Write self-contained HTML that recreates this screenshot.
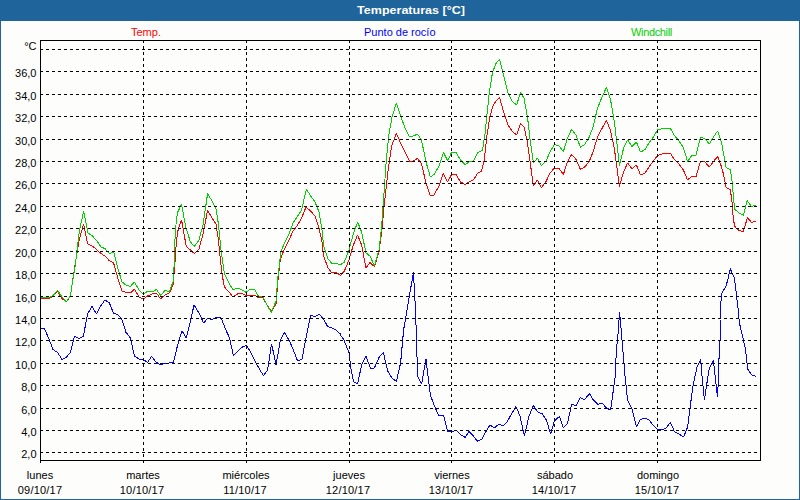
<!DOCTYPE html>
<html><head><meta charset="utf-8"><title>Temperaturas</title>
<style>
html,body{margin:0;padding:0;}
body{width:800px;height:500px;position:relative;overflow:hidden;background:#1f649b;font-family:"Liberation Sans",sans-serif;font-size:11px;color:#000;}
#inner{position:absolute;left:1px;top:21px;width:798px;height:478px;background:#fdfefc;}
#title{position:absolute;left:311px;top:4px;width:200px;transform:scaleX(1.139);transform-origin:50% 50%;text-align:center;color:#fff;font-weight:bold;font-size:11px;line-height:13px;white-space:nowrap;}
.yl{position:absolute;left:0;width:36.5px;text-align:right;line-height:13px;height:13px;white-space:nowrap;}
.xl{position:absolute;width:80px;text-align:center;line-height:13px;height:13px;white-space:nowrap;}
.lg{position:absolute;top:26px;line-height:13px;height:13px;white-space:nowrap;}
</style></head><body>
<div id="inner"></div>
<div id="title">Temperaturas [&deg;C]</div>
<div class="lg" style="left:131px;color:#ff0000">Temp.</div>
<div class="lg" style="left:364px;color:#0000ff">Punto de roc&iacute;o</div>
<div class="lg" style="left:631px;color:#00cf00;letter-spacing:-0.35px">Windchill</div>
<div class="yl" style="top:448px">2,0</div>
<div class="yl" style="top:426px">4,0</div>
<div class="yl" style="top:404px">6,0</div>
<div class="yl" style="top:381px">8,0</div>
<div class="yl" style="top:359px">10,0</div>
<div class="yl" style="top:336px">12,0</div>
<div class="yl" style="top:314px">14,0</div>
<div class="yl" style="top:292px">16,0</div>
<div class="yl" style="top:269px">18,0</div>
<div class="yl" style="top:247px">20,0</div>
<div class="yl" style="top:224px">22,0</div>
<div class="yl" style="top:202px">24,0</div>
<div class="yl" style="top:179px">26,0</div>
<div class="yl" style="top:157px">28,0</div>
<div class="yl" style="top:135px">30,0</div>
<div class="yl" style="top:112px">32,0</div>
<div class="yl" style="top:90px">34,0</div>
<div class="yl" style="top:67px">36,0</div>
<div class="yl" style="top:40px">&deg;C</div>
<div class="xl" style="left:0px;top:469px">lunes</div>
<div class="xl" style="left:0px;top:484px;letter-spacing:0.2px">09/10/17</div>
<div class="xl" style="left:103px;top:469px">martes</div>
<div class="xl" style="left:102px;top:484px;letter-spacing:0.2px">10/10/17</div>
<div class="xl" style="left:206px;top:469px">miércoles</div>
<div class="xl" style="left:205px;top:484px;letter-spacing:0.2px">11/10/17</div>
<div class="xl" style="left:309px;top:469px">jueves</div>
<div class="xl" style="left:308px;top:484px;letter-spacing:0.2px">12/10/17</div>
<div class="xl" style="left:412px;top:469px">viernes</div>
<div class="xl" style="left:411px;top:484px;letter-spacing:0.2px">13/10/17</div>
<div class="xl" style="left:515px;top:469px">sábado</div>
<div class="xl" style="left:514px;top:484px;letter-spacing:0.2px">14/10/17</div>
<div class="xl" style="left:618px;top:469px">domingo</div>
<div class="xl" style="left:617px;top:484px;letter-spacing:0.2px">15/10/17</div>
<svg width="800" height="500" viewBox="0 0 800 500" style="position:absolute;left:0;top:0">
<g shape-rendering="crispEdges">
<polyline fill="none" stroke="#ff0000" stroke-width="1" stroke-linejoin="bevel" points="41.0,298.5 49.5,298.5 53.0,296.0 57.6,291.5 62.0,298.6 66.4,302.0 70.4,296.0 75.0,265.0 79.4,239.0 83.6,224.0 87.6,244.0 92.4,246.0 97.0,250.0 101.0,253.6 105.0,256.0 109.6,261.0 113.6,263.0 118.0,279.0 122.0,291.0 126.0,292.4 130.4,293.0 134.4,289.0 139.0,297.0 143.4,299.0 147.6,296.0 152.0,294.0 156.4,293.0 160.6,299.0 165.0,295.0 169.4,293.0 173.0,285.0 175.0,262.0 176.5,240.0 178.1,230.0 180.0,223.8 181.6,220.0 183.1,228.8 186.2,246.2 190.4,250.0 194.4,253.6 199.0,249.0 203.0,234.0 207.6,210.4 212.0,218.0 216.0,224.0 218.4,240.0 220.4,260.0 222.0,274.0 224.4,287.0 229.0,292.0 233.0,297.0 237.4,294.0 241.6,293.0 246.0,295.6 250.0,296.0 254.4,295.0 258.6,297.6 263.0,298.0 267.0,305.0 271.4,311.0 276.0,304.0 278.0,280.0 280.4,259.0 284.0,250.0 289.0,240.0 293.0,231.0 297.6,225.0 301.6,218.0 306.0,207.0 310.6,211.0 315.0,216.0 319.0,228.0 322.0,242.0 323.6,256.0 328.0,268.0 332.0,273.0 336.0,272.4 340.0,275.0 340.0,276.0 344.4,271.0 349.0,260.0 353.0,246.0 357.6,235.0 361.6,245.0 366.0,268.0 370.0,262.6 374.4,266.6 379.0,252.0 382.0,229.0 384.0,207.0 388.0,171.0 391.6,146.0 396.4,133.4 400.6,143.0 405.0,152.0 409.4,161.0 413.4,161.0 417.6,158.4 421.6,164.0 426.0,183.0 430.4,196.0 434.0,195.0 439.0,186.0 443.4,173.4 447.6,182.0 451.6,174.4 456.0,174.4 460.6,182.0 465.0,184.4 469.0,182.0 473.4,180.0 477.6,173.4 481.6,171.0 484.4,159.0 487.0,135.0 490.0,116.0 493.0,106.0 495.6,101.6 499.6,97.6 503.6,112.0 508.0,125.0 512.0,131.0 516.6,135.0 520.6,123.6 524.0,127.0 527.0,140.0 530.4,164.0 533.4,185.6 537.4,180.0 541.4,187.6 546.0,181.6 550.0,173.0 554.4,168.0 559.0,168.4 563.4,174.4 567.4,162.0 571.6,154.4 576.0,159.4 580.4,169.4 584.6,167.0 589.0,162.0 593.0,152.0 597.6,137.0 602.0,128.4 606.4,120.4 610.4,130.0 614.4,149.0 617.0,168.0 619.4,186.4 623.6,172.0 627.6,163.0 632.0,169.0 636.4,165.0 640.6,175.0 645.0,173.0 649.0,167.0 653.0,161.6 657.4,155.6 662.0,154.0 666.0,153.0 670.4,153.4 674.4,159.6 679.0,164.0 683.4,170.0 687.6,180.0 692.0,176.0 696.0,177.0 700.4,161.6 704.6,161.6 709.4,167.0 713.4,161.6 717.6,156.4 721.6,167.0 723.2,173.2 726.2,187.6 730.4,190.0 732.2,203.0 733.4,220.0 735.2,227.2 738.8,230.2 743.0,231.8 745.4,224.8 747.4,217.4 751.4,222.4 755.6,221.2"/>
<polyline fill="none" stroke="#0000ff" stroke-width="1" stroke-linejoin="bevel" points="41.0,329.0 44.4,328.4 49.0,339.0 53.0,349.6 57.6,352.4 62.0,359.6 66.0,357.6 70.4,352.4 74.4,336.4 79.0,338.6 83.4,336.0 87.6,314.0 92.0,306.4 96.4,314.0 100.6,306.0 105.0,300.0 109.4,303.0 113.4,313.0 117.6,314.6 121.6,318.4 126.0,332.4 130.4,338.0 134.4,356.0 139.0,359.0 143.4,359.6 147.6,362.4 151.6,356.4 156.0,362.0 160.6,365.0 165.0,363.0 169.4,363.0 173.6,362.0 177.6,345.0 182.0,331.0 186.4,338.0 190.0,323.0 194.0,305.0 199.0,313.0 203.6,323.0 207.6,318.4 212.0,319.6 216.0,317.6 221.0,317.6 225.0,328.0 229.4,337.6 233.4,355.6 238.0,351.0 242.4,347.0 246.4,345.6 250.6,352.0 255.0,361.0 259.4,369.0 263.4,375.6 267.6,370.0 271.6,343.6 276.0,365.0 280.4,340.0 284.4,332.4 289.0,340.0 293.4,350.0 297.6,361.0 302.0,359.0 306.4,335.6 310.6,315.6 315.0,316.4 319.4,314.4 323.4,319.0 327.6,326.4 332.0,328.0 336.0,330.0 340.4,334.0 340.0,334.4 344.0,340.0 349.0,353.0 351.0,369.0 353.6,382.0 357.6,384.0 361.6,365.0 366.0,356.4 370.4,368.0 374.4,368.0 379.0,357.4 383.4,352.6 387.6,371.0 392.0,378.0 396.4,381.4 400.6,363.0 403.6,330.0 409.4,296.0 413.4,272.4 415.6,312.0 417.6,376.0 421.6,384.0 426.0,359.4 430.4,395.0 434.4,406.0 439.0,416.0 443.4,415.0 447.6,431.4 452.0,431.4 456.4,430.6 460.6,434.6 465.0,437.4 469.0,431.4 473.4,436.0 477.6,441.4 482.0,439.0 486.0,431.4 490.0,425.0 494.4,428.0 499.0,424.0 503.4,426.0 507.6,421.0 512.0,413.0 516.0,406.6 520.0,416.0 524.4,436.0 529.0,416.0 533.4,405.6 537.6,412.0 542.0,413.6 546.4,420.0 550.6,434.0 554.4,421.0 559.4,416.4 563.4,428.0 567.6,423.0 571.6,404.4 576.0,405.6 580.4,397.6 584.4,400.0 589.4,393.6 593.4,400.0 598.0,404.4 602.0,403.0 606.4,408.0 610.6,410.0 615.0,378.0 616.4,350.0 618.0,334.0 619.6,312.4 621.0,328.0 623.0,352.0 624.4,368.0 624.4,370.0 627.6,400.0 632.0,409.0 636.4,427.0 640.0,420.0 644.4,418.0 649.0,420.0 653.0,425.0 657.4,429.6 661.6,430.0 666.0,428.0 670.4,422.4 674.4,431.6 679.0,434.0 683.6,437.0 687.6,427.0 690.0,408.0 693.0,386.0 697.0,367.0 700.6,359.6 702.4,380.0 704.4,400.0 707.4,380.0 709.4,368.0 713.4,360.4 715.6,380.0 717.4,397.0 718.1,385.0 718.8,358.8 719.8,357.5 720.0,340.0 720.0,320.0 720.6,307.4 721.4,294.8 723.0,291.2 726.0,286.4 728.2,278.0 729.4,272.0 730.4,268.2 731.4,272.0 733.8,276.2 735.0,282.8 736.6,296.0 737.4,303.2 738.6,312.8 739.2,322.0 743.0,338.0 745.6,350.0 747.6,369.0 751.6,375.0 756.0,376.4"/>
<polyline fill="none" stroke="#00cf00" stroke-width="1" stroke-linejoin="bevel" points="41.0,297.5 49.0,297.5 53.0,295.5 57.6,290.5 62.0,297.0 66.4,302.0 70.4,295.4 75.0,267.0 79.4,231.0 83.6,211.4 88.0,233.0 92.4,236.0 97.0,241.0 101.0,247.0 105.0,248.6 109.6,254.0 113.6,251.4 118.0,269.0 122.0,282.0 126.0,285.0 130.4,286.4 134.4,282.0 139.0,290.0 143.4,294.0 147.6,291.4 152.0,292.0 156.4,289.4 160.6,295.4 165.0,290.6 169.4,291.4 173.0,282.0 174.4,262.0 175.0,239.0 176.2,222.0 177.5,212.5 181.5,204.4 186.0,228.0 190.4,242.0 194.4,246.4 199.0,240.0 203.0,225.0 207.6,193.6 212.0,201.0 216.0,209.0 218.4,224.0 221.0,250.0 224.4,274.0 229.0,283.0 233.0,290.0 237.4,288.0 241.6,289.6 246.0,292.4 250.0,289.2 254.4,289.2 258.6,296.6 263.0,296.6 267.0,305.0 271.4,312.4 276.0,301.0 278.0,276.0 281.0,251.0 285.0,242.0 289.0,234.0 293.0,223.0 297.6,216.0 301.6,210.0 306.4,189.0 310.6,196.0 315.0,202.0 319.0,212.0 322.0,230.0 323.6,246.0 328.0,259.0 332.0,263.6 336.0,263.6 340.0,264.4 340.0,265.0 344.4,262.0 349.0,250.0 353.0,235.0 357.6,222.0 361.6,232.0 366.0,253.0 370.0,256.0 374.4,266.0 379.0,250.0 381.4,229.0 383.0,207.0 386.4,159.0 389.0,134.0 392.0,117.0 396.4,103.0 400.6,116.0 405.0,128.0 409.4,137.0 413.4,136.0 417.6,134.0 421.6,140.6 426.0,162.0 430.4,177.0 434.4,174.0 439.0,166.0 443.4,152.4 447.6,160.6 451.6,152.4 456.0,152.4 460.6,160.0 465.0,164.6 469.0,162.0 473.4,161.0 477.6,153.0 481.6,150.6 482.4,151.0 485.0,134.0 489.0,95.0 492.4,73.0 495.6,64.0 499.6,59.0 503.6,75.0 508.0,93.0 512.0,101.0 516.6,105.0 520.6,92.4 524.0,98.0 527.6,118.0 530.4,142.0 533.4,163.0 537.4,158.0 541.4,165.6 546.0,161.0 550.0,152.0 554.4,144.4 559.0,146.0 563.4,151.6 567.4,138.0 571.6,129.4 576.0,135.0 580.4,147.4 584.6,144.4 589.0,137.6 593.0,127.0 597.6,108.0 602.0,97.0 606.4,87.6 610.4,99.0 614.4,122.0 617.0,144.0 619.4,166.0 623.6,148.0 627.6,140.0 632.0,146.4 636.4,142.0 640.6,152.0 645.0,149.6 649.0,143.0 653.0,137.6 657.4,130.0 662.0,128.6 666.0,128.0 670.4,128.4 674.4,135.6 679.0,141.0 683.4,147.6 687.6,161.6 692.0,155.0 696.0,155.0 700.4,137.0 704.6,138.4 709.4,144.0 713.4,137.0 717.6,131.0 721.6,143.0 726.2,167.8 730.4,169.6 732.2,182.8 733.4,196.0 734.6,209.2 738.8,212.7 743.6,215.2 745.4,206.8 747.2,200.6 751.4,206.2 755.6,205.6"/>
</g>
<g shape-rendering="crispEdges" stroke="#000" stroke-width="1" fill="none">
<line x1="40" y1="452.5" x2="760" y2="452.5" stroke-dasharray="3 3"/>
<line x1="40" y1="430.5" x2="760" y2="430.5" stroke-dasharray="3 3"/>
<line x1="40" y1="408.5" x2="760" y2="408.5" stroke-dasharray="3 3"/>
<line x1="40" y1="385.5" x2="760" y2="385.5" stroke-dasharray="3 3"/>
<line x1="40" y1="363.5" x2="760" y2="363.5" stroke-dasharray="3 3"/>
<line x1="40" y1="340.5" x2="760" y2="340.5" stroke-dasharray="3 3"/>
<line x1="40" y1="318.5" x2="760" y2="318.5" stroke-dasharray="3 3"/>
<line x1="40" y1="296.5" x2="760" y2="296.5" stroke-dasharray="3 3"/>
<line x1="40" y1="273.5" x2="760" y2="273.5" stroke-dasharray="3 3"/>
<line x1="40" y1="251.5" x2="760" y2="251.5" stroke-dasharray="3 3"/>
<line x1="40" y1="228.5" x2="760" y2="228.5" stroke-dasharray="3 3"/>
<line x1="40" y1="206.5" x2="760" y2="206.5" stroke-dasharray="3 3"/>
<line x1="40" y1="183.5" x2="760" y2="183.5" stroke-dasharray="3 3"/>
<line x1="40" y1="161.5" x2="760" y2="161.5" stroke-dasharray="3 3"/>
<line x1="40" y1="139.5" x2="760" y2="139.5" stroke-dasharray="3 3"/>
<line x1="40" y1="116.5" x2="760" y2="116.5" stroke-dasharray="3 3"/>
<line x1="40" y1="94.5" x2="760" y2="94.5" stroke-dasharray="3 3"/>
<line x1="40" y1="71.5" x2="760" y2="71.5" stroke-dasharray="3 3"/>
<line x1="40" y1="49.5" x2="760" y2="49.5" stroke-dasharray="3 3"/>
<line x1="143.5" y1="40" x2="143.5" y2="460" stroke-dasharray="3 3"/>
<line x1="143.5" y1="460" x2="143.5" y2="463"/>
<line x1="246.5" y1="40" x2="246.5" y2="460" stroke-dasharray="3 3"/>
<line x1="246.5" y1="460" x2="246.5" y2="463"/>
<line x1="349.5" y1="40" x2="349.5" y2="460" stroke-dasharray="3 3"/>
<line x1="349.5" y1="460" x2="349.5" y2="463"/>
<line x1="451.5" y1="40" x2="451.5" y2="460" stroke-dasharray="3 3"/>
<line x1="451.5" y1="460" x2="451.5" y2="463"/>
<line x1="554.5" y1="40" x2="554.5" y2="460" stroke-dasharray="3 3"/>
<line x1="554.5" y1="460" x2="554.5" y2="463"/>
<line x1="657.5" y1="40" x2="657.5" y2="460" stroke-dasharray="3 3"/>
<line x1="657.5" y1="460" x2="657.5" y2="463"/>
<rect x="40.5" y="40.5" width="720" height="420"/>
<line x1="40.5" y1="460" x2="40.5" y2="463"/>
</g>
</svg>
</body></html>
